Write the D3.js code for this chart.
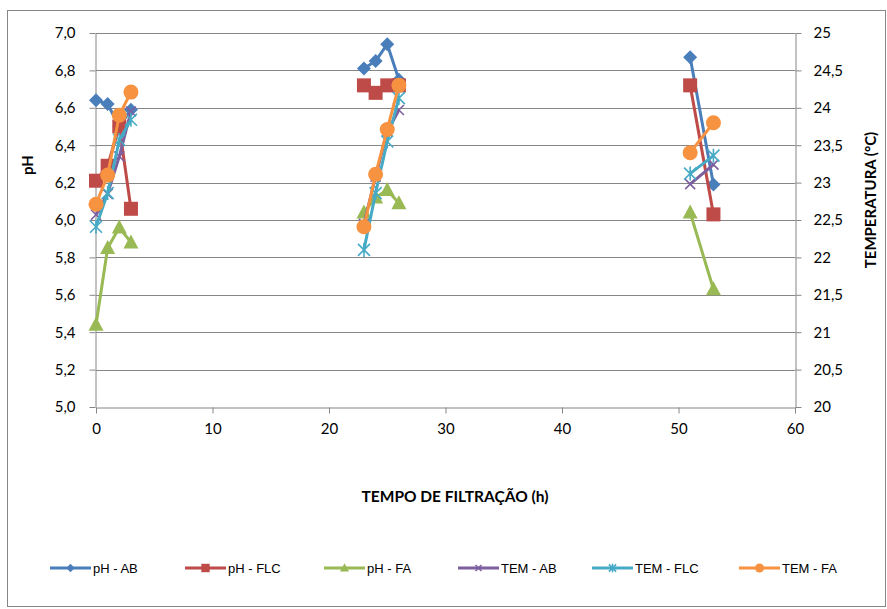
<!DOCTYPE html>
<html><head><meta charset="utf-8">
<script src="https://cdn.jsdelivr.net/npm/d3@7"></script>
<style>body{margin:0;background:#fff}svg{display:block}</style>
</head><body>
<script>
// hours (null = break between runs)
const hours   = [0, 1, 2, 3, null, 23, 24, 25, 26, null, 51, 53];
const phAB    = [6.64, 6.62, 6.50, 6.59, null, 6.81, 6.85, 6.94, 6.75, null, 6.87, 6.19];
const phFLC   = [6.21, 6.29, 6.50, 6.06, null, 6.72, 6.68, 6.72, 6.72, null, 6.72, 6.03];
const phFA    = [5.44, 5.85, 5.96, 5.88, null, 6.04, 6.12, 6.16, 6.09, null, 6.04, 5.63];
const temAB   = [22.57, 22.85, 23.35, 23.95, null, 22.45, 23.08, 23.68, 23.97, null, 22.98, 23.24];
const temFLC  = [22.41, 22.86, 23.57, 23.84, null, 22.10, 22.86, 23.55, 24.13, null, 23.12, 23.36];
const temFA   = [22.71, 23.10, 23.90, 24.21, null, 22.41, 23.11, 23.71, 24.30, null, 23.40, 23.80];
const seriesNames = ["pH - AB", "pH - FLC", "pH - FA", "TEM - AB", "TEM - FLC", "TEM - FA"];
const phTicks = [5.0, 5.2, 5.4, 5.6, 5.8, 6.0, 6.2, 6.4, 6.6, 6.8, 7.0];
const tempTicks = [20, 20.5, 21, 21.5, 22, 22.5, 23, 23.5, 24, 24.5, 25];
const xTicks = [0, 10, 20, 30, 40, 50, 60];

const W = 887, H = 609;
const svg = d3.select("body").append("svg").attr("width", W).attr("height", H);
const font = "Lato, 'Liberation Sans', sans-serif";
const grey = "#868686";

svg.append("rect").attr("x", 7.5).attr("y", 10.5).attr("width", 878).attr("height", 596)
  .attr("fill", "#fff").attr("stroke", grey).attr("stroke-width", 1);

const x = d3.scaleLinear().domain([0, 60]).range([96, 795]);
const yL = d3.scaleLinear().domain([5, 7]).range([407, 33]);
const yR = d3.scaleLinear().domain([20, 25]).range([407, 33]);

// gridlines
svg.append("g").selectAll("line").data(phTicks.slice(1)).join("line")
  .attr("x1", 96).attr("x2", 795)
  .attr("y1", d => Math.round(yL(d)) + 0.5).attr("y2", d => Math.round(yL(d)) + 0.5)
  .attr("stroke", grey).attr("stroke-width", 1);

function styleAxis(g) {
  g.select(".domain").attr("stroke", grey);
  g.selectAll(".tick line").attr("stroke", grey);
  g.selectAll(".tick text").attr("fill", "#000").style("font-family", font).style("font-size", "15px");
}
const fmt = d3.format(".1f");
svg.append("g").attr("transform", "translate(95.5,0)")
  .call(d3.axisLeft(yL).tickValues(phTicks).tickSize(6).tickSizeOuter(0).tickPadding(14)
    .tickFormat(d => fmt(d).replace(".", ",")))
  .call(styleAxis);
svg.append("g").attr("transform", "translate(795.5,0)")
  .call(d3.axisRight(yR).tickValues(tempTicks).tickSize(6).tickSizeOuter(0).tickPadding(12)
    .tickFormat(d => String(d).replace(".", ",")))
  .call(styleAxis);
svg.append("g").attr("transform", "translate(0,407.5)")
  .call(d3.axisBottom(x).tickValues(xTicks).tickSize(6).tickSizeOuter(0).tickPadding(10))
  .call(styleAxis);

// titles
svg.append("text").attr("x", 455).attr("y", 502).attr("text-anchor", "middle")
  .style("font-family", font).style("font-size", "15.5px").style("font-weight", "bold")
  .text("TEMPO DE FILTRAÇÃO (h)");
svg.append("text").attr("transform", "translate(33,165) rotate(-90)").attr("text-anchor", "middle")
  .style("font-family", font).style("font-size", "15px").style("font-weight", "bold").text("pH");
svg.append("text").attr("transform", "translate(876,200) rotate(-90)").attr("text-anchor", "middle")
  .style("font-family", font).style("font-size", "15px").style("font-weight", "bold").text("TEMPERATURA (°C)");

const colors = ["#4A7EBB", "#BE4B48", "#98B954", "#7D5FA0", "#46AAC5", "#F69240"];
const marks = ["diamond", "square", "triangle", "x", "star", "circle"];
const values = [phAB, phFLC, phFA, temAB, temFLC, temFA];
const scales = [yL, yL, yL, yR, yR, yR];

function drawMarker(g, type, color, s) {
  if (type === "diamond") {
    g.append("path").attr("d", `M0,${-7*s}L${7*s},0L0,${7*s}L${-7*s},0Z`).attr("fill", color);
  } else if (type === "square") {
    g.append("rect").attr("x", -7*s).attr("y", -7*s).attr("width", 14*s).attr("height", 14*s).attr("fill", color);
  } else if (type === "triangle") {
    g.append("path").attr("d", `M0,${-8*s}L${7.5*s},${6*s}L${-7.5*s},${6*s}Z`).attr("fill", color);
  } else if (type === "x") {
    g.append("path").attr("d", `M${-5*s},${-5*s}L${5*s},${5*s}M${5*s},${-5*s}L${-5*s},${5*s}`)
      .attr("stroke", color).attr("stroke-width", 1.6).attr("fill", "none");
  } else if (type === "star") {
    g.append("path").attr("d", `M${-6*s},${-6*s}L${6*s},${6*s}M${6*s},${-6*s}L${-6*s},${6*s}M0,${-7*s}L0,${7*s}`)
      .attr("stroke", color).attr("stroke-width", 1.6).attr("fill", "none");
  } else if (type === "circle") {
    g.append("circle").attr("r", 7.5*s).attr("fill", color);
  }
}

values.forEach((vals, i) => {
  const pts = hours.map((h, j) => ({h, v: vals[j]}));
  const line = d3.line().defined(d => d.h !== null && d.v !== null)
    .x(d => x(d.h)).y(d => scales[i](d.v));
  const g = svg.append("g");
  g.append("path").datum(pts).attr("d", line).attr("fill", "none")
    .attr("stroke", colors[i]).attr("stroke-width", 3).attr("stroke-linejoin", "round");
  pts.filter(d => d.h !== null).forEach(d => {
    const m = g.append("g").attr("transform", `translate(${x(d.h)},${scales[i](d.v)})`);
    drawMarker(m, marks[i], colors[i], 1);
  });
});

// legend
const legX = [50, 185, 324, 458, 592, 739];
seriesNames.forEach((name, i) => {
  const g = svg.append("g").attr("transform", `translate(${legX[i]},568)`);
  g.append("line").attr("x1", 0).attr("x2", 41).attr("y1", 0).attr("y2", 0)
    .attr("stroke", colors[i]).attr("stroke-width", 3);
  const m = g.append("g").attr("transform", "translate(20.5,0)");
  drawMarker(m, marks[i], colors[i], 0.6);
  g.append("text").attr("x", 43).attr("y", 5).style("font-family", "'Liberation Sans', sans-serif")
    .style("font-size", "13px").style("font-stretch", "condensed").attr("fill", "#000").text(name);
});
</script>
</body></html>
